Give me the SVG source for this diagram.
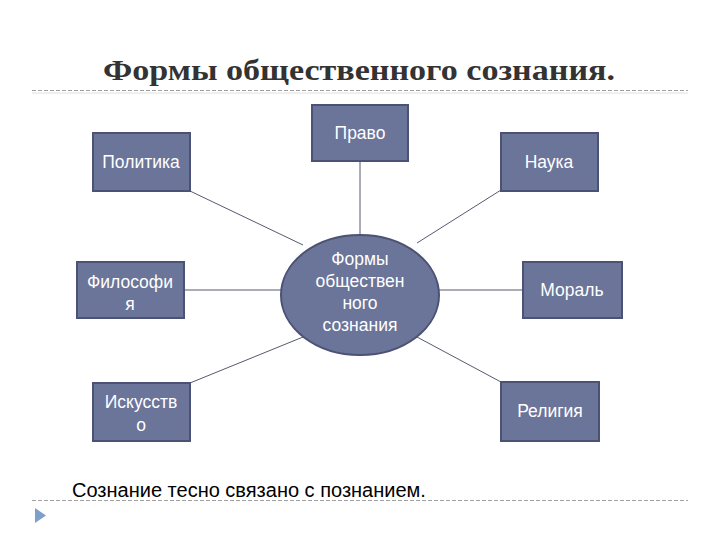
<svg xmlns="http://www.w3.org/2000/svg" width="720" height="540" viewBox="0 0 720 540">
<style>
.box{fill:#6B7499;stroke:#4B5273;stroke-width:2}
.lbl{font-family:"Liberation Sans",Arial,sans-serif;font-size:17.5px;fill:#ffffff;text-anchor:middle}
.con{stroke:#555a6e;stroke-width:1;fill:none}
.rule{stroke:#a0a0a0;stroke-width:1;stroke-dasharray:4 2}
</style>
<rect width="720" height="540" fill="#ffffff"/>
<text x="359" y="80" font-family="'Liberation Serif','DejaVu Serif',serif" font-weight="bold" font-size="29" fill="#333333" text-anchor="middle" textLength="512" lengthAdjust="spacingAndGlyphs">Формы общественного сознания.</text>
<line class="rule" x1="32" y1="90.5" x2="688" y2="90.5"/>
<line x1="32" y1="93" x2="688" y2="93" stroke="#e0e0e0" stroke-width="1"/>
<g id="connectors">
<line class="con" x1="360" y1="162" x2="360" y2="235"/>
<line class="con" x1="190" y1="191" x2="303" y2="245"/>
<line class="con" x1="501" y1="190" x2="417" y2="243"/>
<line class="con" x1="184" y1="290" x2="281" y2="290"/>
<line class="con" x1="439" y1="290" x2="523" y2="290"/>
<line class="con" x1="190" y1="383" x2="303" y2="337"/>
<line class="con" x1="501" y1="382" x2="417" y2="337"/>
</g>
<g id="center">
<ellipse cx="360" cy="295" rx="79" ry="60" class="box"/>
<text class="lbl" x="360" y="265">Формы</text>
<text class="lbl" x="360" y="287">обществен</text>
<text class="lbl" x="360" y="309">ного</text>
<text class="lbl" x="360" y="331">сознания</text>
</g>
<g id="pravo">
<rect class="box" x="312" y="105" width="96" height="56"/>
<text class="lbl" x="360" y="139">Право</text>
</g>
<g id="politika">
<rect class="box" x="93" y="133" width="97" height="58"/>
<text class="lbl" x="141" y="168">Политика</text>
</g>
<g id="nauka">
<rect class="box" x="501" y="133" width="97" height="58"/>
<text class="lbl" x="549" y="168">Наука</text>
</g>
<g id="filosofiya">
<rect class="box" x="77" y="262" width="107" height="56"/>
<text class="lbl" x="130" y="288">Философи</text>
<text class="lbl" x="130" y="310">я</text>
</g>
<g id="moral">
<rect class="box" x="523" y="262" width="99" height="56"/>
<text class="lbl" x="572" y="296">Мораль</text>
</g>
<g id="iskusstvo">
<rect class="box" x="93" y="383" width="97" height="58"/>
<text class="lbl" x="141" y="408">Искусств</text>
<text class="lbl" x="141" y="431">о</text>
</g>
<g id="religiya">
<rect class="box" x="501" y="382" width="98" height="59"/>
<text class="lbl" x="550" y="417">Религия</text>
</g>
<text x="72" y="497" font-family="'Liberation Sans',Arial,sans-serif" font-size="20" fill="#000000">Сознание тесно связано с познанием.</text>
<line class="rule" x1="32" y1="500.5" x2="688" y2="500.5"/>
<polygon points="35,508 46,515.5 35,523" fill="#7F9FCB"/>
</svg>
